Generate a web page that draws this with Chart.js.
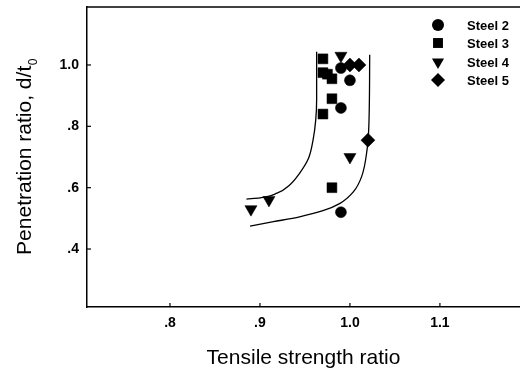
<!DOCTYPE html>
<html><head><meta charset="utf-8">
<script src="https://cdn.jsdelivr.net/npm/chart.js@4.4.1/dist/chart.umd.min.js"></script>
<style>html,body{margin:0;padding:0;background:#fff;overflow:hidden}canvas{display:block}</style>
</head><body>
<canvas id="c" width="520" height="370"></canvas>
<script>
// ---- data ----
const seriesNames = ['Steel 2', 'Steel 3', 'Steel 4', 'Steel 5'];
const steel2X = [0.99, 1.0, 0.99, 0.99];
const steel2Y = [0.99, 0.95, 0.86, 0.52];
const steel3X = [0.97, 0.97, 0.975, 0.98, 0.98, 0.97, 0.98];
const steel3Y = [1.02, 0.975, 0.97, 0.955, 0.89, 0.84, 0.60];
const steel4X = [0.99, 0.89, 0.91, 1.0];
const steel4Y = [1.03, 0.53, 0.56, 0.70];
const steel5X = [1.0, 1.01, 1.02];
const steel5Y = [1.0, 1.0, 0.755];
const upperCurveX = [0.885, 0.900, 0.919, 0.933, 0.944, 0.954, 0.959, 0.962, 0.963, 0.963];
const upperCurveY = [0.563, 0.567, 0.582, 0.609, 0.647, 0.696, 0.755, 0.821, 0.886, 1.043];
const lowerCurveX = [0.889, 0.915, 0.944, 0.970, 0.989, 1.004, 1.013, 1.019, 1.021, 1.022];
const lowerCurveY = [0.475, 0.489, 0.505, 0.525, 0.549, 0.587, 0.636, 0.723, 0.800, 1.033];
const xTickValues = [0.8, 0.9, 1.0, 1.1];
const xTickLabels = ['.8', '.9', '1.0', '1.1'];
const yTickValues = [0.4, 0.6, 0.8, 1.0];
const yTickLabels = ['.4', '.6', '.8', '1.0'];
const xTitle = 'Tensile strength ratio';
const yTitle = 'Penetration ratio, d/t';
const yTitleSub = '0';

const FONT = '"Liberation Sans", Arial, Helvetica, sans-serif';
const pts = (xs, ys) => xs.map((x, i) => ({x: x, y: ys[i]}));
const styles = [
  {pointStyle: 'circle', radius: 5.5, rotation: 0},
  {pointStyle: 'rect', radius: 7, rotation: 0},
  {pointStyle: 'triangle', radius: 7, rotation: 180},
  {pointStyle: 'rectRot', radius: 7, rotation: 0}
];
const seriesData = [pts(steel2X, steel2Y), pts(steel3X, steel3Y), pts(steel4X, steel4Y), pts(steel5X, steel5Y)];

const curveStyle = {showLine: true, pointRadius: 0, borderColor: '#000', borderWidth: 1.3, fill: false,
  indexAxis: 'y', cubicInterpolationMode: 'monotone'};
const datasets = [
  Object.assign({label: 'curve A', data: pts(upperCurveX, upperCurveY)}, curveStyle),
  Object.assign({label: 'curve B', data: pts(lowerCurveX, lowerCurveY)}, curveStyle)
];
seriesNames.forEach((n, i) => datasets.push({
  label: n, data: seriesData[i], showLine: false,
  pointStyle: styles[i].pointStyle, pointRadius: styles[i].radius, pointRotation: styles[i].rotation,
  backgroundColor: '#000', borderColor: '#000', borderWidth: 0.5
}));

const decor = {
  id: 'decor',
  afterDraw(chart) {
    const ctx = chart.ctx, a = chart.chartArea;
    const xs = chart.scales.x, ys = chart.scales.y;
    ctx.save();
    ctx.strokeStyle = '#000';
    ctx.lineWidth = 1.5;
    ctx.beginPath(); ctx.moveTo(a.left, a.top); ctx.lineTo(a.right, a.top); ctx.stroke();
    ctx.lineWidth = 1.2;
    xTickValues.forEach(v => {
      const p = xs.getPixelForValue(v);
      ctx.beginPath(); ctx.moveTo(p, a.bottom); ctx.lineTo(p, a.bottom - 4); ctx.stroke();
    });
    yTickValues.forEach(v => {
      const p = ys.getPixelForValue(v);
      ctx.beginPath(); ctx.moveTo(a.left, p); ctx.lineTo(a.left + 4, p); ctx.stroke();
    });
    ctx.fillStyle = '#000';
    ctx.font = '21px ' + FONT;
    ctx.textAlign = 'center';
    ctx.textBaseline = 'alphabetic';
    ctx.fillText(xTitle, (a.left + a.right) / 2, 364);
    ctx.save();
    ctx.translate(31, (a.top + a.bottom) / 2);
    ctx.rotate(-Math.PI / 2);
    ctx.font = '21px ' + FONT;
    const w1 = ctx.measureText(yTitle).width;
    ctx.font = '12px ' + FONT;
    const w2 = ctx.measureText(yTitleSub).width;
    const start = -(w1 + w2) / 2;
    ctx.textAlign = 'left';
    ctx.font = '21px ' + FONT;
    ctx.fillText(yTitle, start, 0);
    ctx.font = '12px ' + FONT;
    ctx.fillText(yTitleSub, start + w1 + 0.5, 6);
    ctx.restore();
    const lx = 438, tx = 467, rows = [25, 43, 62, 80];
    ctx.font = 'bold 13px ' + FONT;
    ctx.textAlign = 'left';
    ctx.textBaseline = 'middle';
    seriesNames.forEach((n, i) => {
      ctx.fillStyle = '#000'; ctx.strokeStyle = '#000';
      Chart.helpers.drawPoint(ctx, {pointStyle: styles[i].pointStyle, radius: i === 0 ? 6 : styles[i].radius, rotation: styles[i].rotation, borderWidth: 0}, lx, rows[i]);
      ctx.fillText(n, tx, rows[i] + 1);
    });
    ctx.restore();
  }
};

new Chart(document.getElementById('c'), {
  type: 'scatter',
  data: {datasets: datasets},
  options: {
    responsive: false, animation: false, devicePixelRatio: 1,
    layout: {autoPadding: false, padding: {top: 7, right: 0, left: 0, bottom: 0}},
    plugins: {legend: {display: false}, tooltip: {enabled: false}},
    scales: {
      x: {
        type: 'linear', min: 0.7078, max: 1.189,
        afterBuildTicks: s => { s.ticks = xTickValues.map(v => ({value: v})); },
        afterFit: s => { s.height = 63; s.paddingLeft = 0; s.paddingRight = 0; },
        grid: {display: false, drawTicks: false},
        border: {display: true, color: '#000', width: 1.5},
        ticks: {color: '#000', padding: 8, maxRotation: 0, autoSkip: false, font: {family: FONT, size: 14, weight: 'bold'},
          callback: (v) => { const i = xTickValues.findIndex(t => Math.abs(t - v) < 1e-6); return i >= 0 ? xTickLabels[i] : ''; }}
      },
      y: {
        type: 'linear', min: 0.211, max: 1.189,
        afterBuildTicks: s => { s.ticks = yTickValues.map(v => ({value: v})); },
        afterFit: s => { s.width = 87; s.paddingTop = 0; s.paddingBottom = 0; },
        grid: {display: false, drawTicks: false},
        border: {display: true, color: '#000', width: 1.5},
        ticks: {color: '#000', padding: 8, autoSkip: false, font: {family: FONT, size: 14, weight: 'bold'},
          callback: (v) => { const i = yTickValues.findIndex(t => Math.abs(t - v) < 1e-6); return i >= 0 ? yTickLabels[i] : ''; }}
      }
    }
  },
  plugins: [decor]
});
</script>
</body></html>
